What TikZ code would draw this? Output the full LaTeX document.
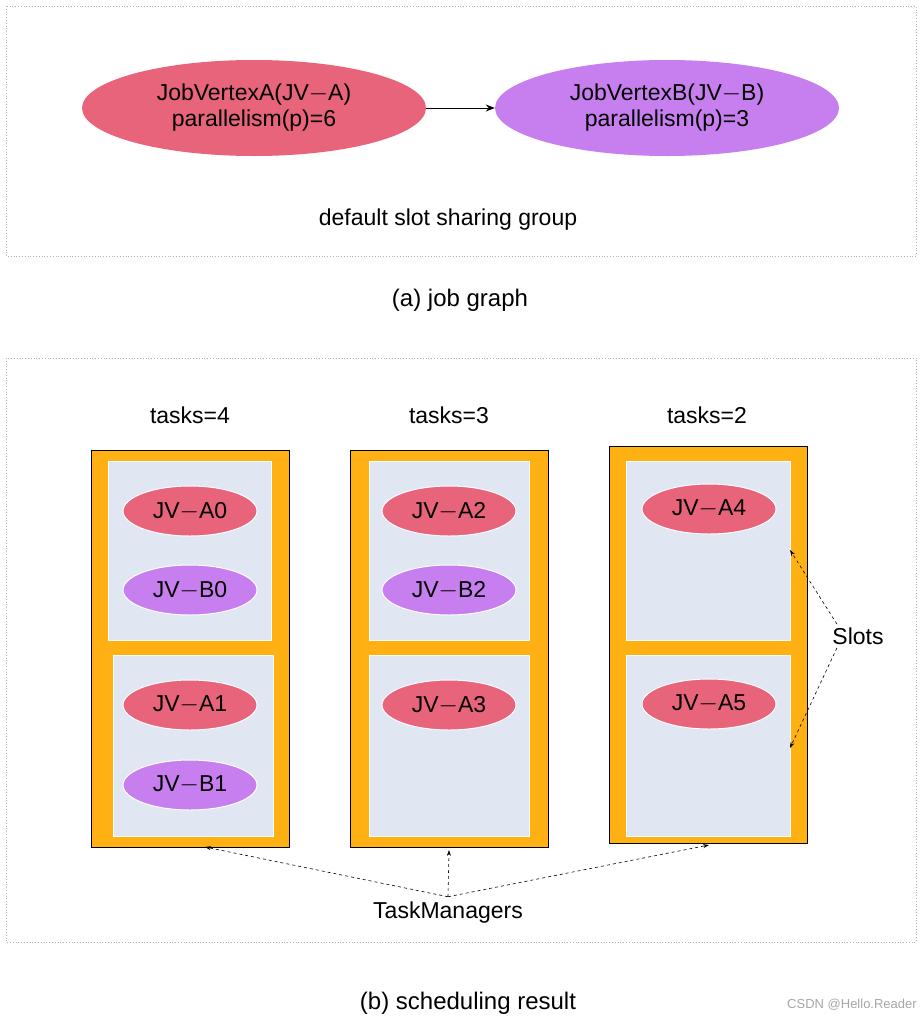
\documentclass[tikz,border=0pt]{standalone}
\usepackage{fontspec}
\setmainfont{Liberation Sans}
\usetikzlibrary{shapes.geometric,arrows.meta}
\definecolor{jvred}{HTML}{E8647A}
\definecolor{jvpur}{HTML}{C77FF0}
\definecolor{tmor}{HTML}{FFB013}
\definecolor{slotc}{HTML}{E0E6F2}
\begin{document}
\begin{tikzpicture}[x=1pt,y=-1pt,
  big/.style={ellipse,minimum width=344pt,minimum height=96pt,inner sep=0pt,align=center,font=\fontsize{23}{26}\selectfont},
  sm/.style={ellipse,minimum width=134pt,minimum height=50pt,inner sep=0pt,font=\fontsize{23}{26}\selectfont,draw=white,line width=1pt},
  txt/.style={font=\fontsize{23}{26}\selectfont},
  captxt/.style={font=\fontsize{24}{28}\selectfont},
  frame/.style={draw=gray!60,dotted,line width=0.8pt},
  tm/.style={fill=tmor},
  slot/.style={fill=slotc,draw=white,line width=1pt},
  da/.style={dashed,-{Stealth[length=6pt,width=4pt]},line width=0.6pt}]
\useasboundingbox (0,0) rectangle (921,1023);
\draw[frame] (6,6) rectangle (916,256);
\node[big,fill=jvred] (A) at (254,108) {JobVertexA(JV$-$A)\\parallelism(p)=6};
\node[big,fill=jvpur] (B) at (667,108) {JobVertexB(JV$-$B)\\parallelism(p)=3};
\draw[-{Stealth[length=9pt,width=7pt]},line width=1pt] (A) -- (B);
\node[txt] (dg) at (448,220) {default slot sharing group};
\node[captxt] (ca) at (460,300) {(a) job graph};
\draw[frame] (6,358) rectangle (916,942);
\node[txt] (t1) at (190,415) {tasks=4};
\node[txt] (t2) at (449,415) {tasks=3};
\node[txt] (t3) at (707,415) {tasks=2};
\draw[tm] (91,450) rectangle (289,847);
\draw[slot] (108,461) rectangle (271,640);
\draw[slot] (113,655) rectangle (273,836);
\draw[tm] (350,450) rectangle (548,847);
\draw[slot] (369,461) rectangle (529,640);
\draw[slot] (369,655) rectangle (529,836);
\draw[tm] (609,446) rectangle (807,843);
\draw[slot] (626,461) rectangle (790,640);
\draw[slot] (626,655) rectangle (790,836);
\node[sm,fill=jvred] (a0) at (190,511) {JV$-$A0};
\node[sm,fill=jvpur] (b0) at (190,590) {JV$-$B0};
\node[sm,fill=jvred] (a1) at (190,705) {JV$-$A1};
\node[sm,fill=jvpur] (b1) at (190,785) {JV$-$B1};
\node[sm,fill=jvred] (a2) at (449,511) {JV$-$A2};
\node[sm,fill=jvpur] (b2) at (449,590) {JV$-$B2};
\node[sm,fill=jvred] (a3) at (449,705) {JV$-$A3};
\node[sm,fill=jvred] (a4) at (709,509) {JV$-$A4};
\node[sm,fill=jvred] (a5) at (709,704) {JV$-$A5};
\node[txt] (sl) at (858,636) {Slots};
\coordinate (s1) at (790,550);
\coordinate (s2) at (790,748);
\draw[da] (sl.north west) ++(8,0) -- (s1);
\draw[da] (sl.south west) ++(8,0) -- (s2);
\node[txt] (tms) at (448,913) {TaskManagers};
\coordinate (m1) at (205,847);
\coordinate (m2) at (449,850);
\coordinate (m3) at (709,845);
\draw[da] (tms.north) ++(0,-2) -- (m1);
\draw[da] (tms.north) ++(0,-2) -- (m2);
\draw[da] (tms.north) ++(0,-2) -- (m3);
\node[captxt] (cb) at (468,1003) {(b) scheduling result};
\node[font=\fontsize{13}{15}\selectfont,text=gray!70] (wm) at (852,1005) {CSDN @Hello.Reader};
\end{tikzpicture}
\end{document}
